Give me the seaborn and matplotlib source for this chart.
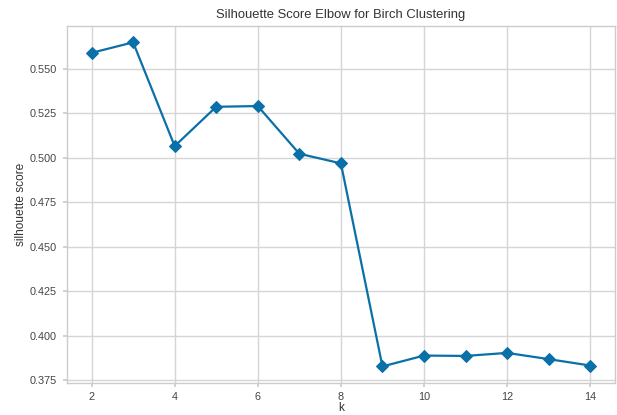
import matplotlib
matplotlib.use("Agg")
import matplotlib.pyplot as plt
import seaborn as sns
import pandas as pd

# Silhouette scores per number of clusters
k_values = [2, 3, 4, 5, 6, 7, 8, 9, 10, 11, 12, 13, 14]
scores = [0.5589, 0.5648, 0.5065, 0.5286, 0.5290, 0.5022, 0.4968,
          0.3827, 0.3888, 0.3886, 0.3903, 0.3868, 0.3832]
y_ticks = [0.375, 0.400, 0.425, 0.450, 0.475, 0.500, 0.525, 0.550]
x_ticks = [2, 4, 6, 8, 10, 12, 14]

df = pd.DataFrame({"k": k_values, "silhouette score": scores})

sns.set_theme(style="whitegrid")
plt.rcParams["font.family"] = ["Liberation Sans", "DejaVu Sans"]
plt.rcParams.update({
    "axes.edgecolor": "#cccccc",
    "grid.color": "#d5d5d5",
    "grid.linewidth": 1.0,
    "xtick.color": "#cccccc",
    "ytick.color": "#cccccc",
    "xtick.labelcolor": "#444444",
    "ytick.labelcolor": "#444444",
    "xtick.major.size": 3,
    "ytick.major.size": 3,
    "xtick.bottom": True,
    "ytick.left": True,
})

fig = plt.figure(figsize=(6.17, 4.15), dpi=100)
ax = fig.add_axes([0.108, 0.078, 0.889, 0.859])

sns.lineplot(data=df, x="k", y="silhouette score", ax=ax,
             color="#0a70a8", linewidth=1.6, marker="D", markersize=6.5,
             markeredgecolor="#0a70a8")

ax.set_xticks(x_ticks)
ax.set_yticks(y_ticks)
ax.set_yticklabels([f"{v:.3f}" for v in y_ticks])
ax.tick_params(labelsize=7.8, pad=4)
ax.set_xlabel("k", fontsize=8.6, color="#333333", labelpad=0)
ax.set_ylabel("silhouette score", fontsize=8.6, color="#333333", labelpad=2)
ax.set_title("Silhouette Score Elbow for Birch Clustering",
             fontsize=9.4, color="#333333", pad=6)
for s in ax.spines.values():
    s.set_color("#cccccc")
    s.set_linewidth(1.0)

fig.savefig("out.png", dpi=100)
